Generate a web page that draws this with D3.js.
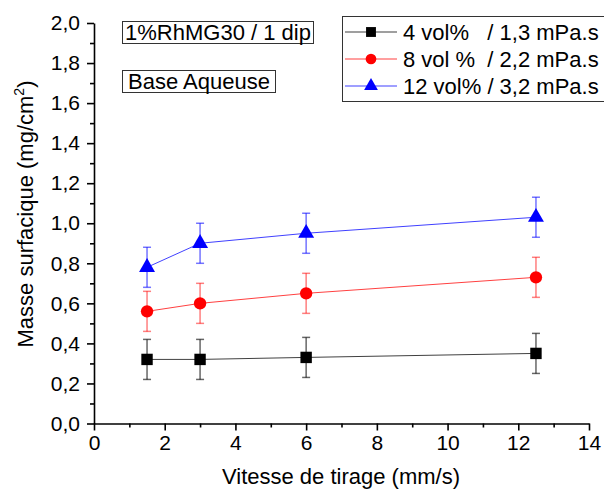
<!DOCTYPE html>
<html><head><meta charset="utf-8">
<script src="https://cdn.jsdelivr.net/npm/d3@7"></script>
<style>body{margin:0;background:#fff}svg{display:block;font-family:"Liberation Sans",Arial,sans-serif}</style>
</head><body><svg id="c" width="604" height="490"></svg>
<script>
const speeds = [1.5, 3, 6, 12.5];
const s4 = [0.32, 0.32, 0.33, 0.35];
const s8 = [0.56, 0.60, 0.65, 0.73];
const s12 = [0.78, 0.90, 0.95, 1.03];
const err4 = [0.10, 0.10, 0.10, 0.10];
const err8 = [0.10, 0.10, 0.10, 0.10];
const err12 = [0.10, 0.10, 0.10, 0.10];
const seriesNames = ["4 vol%   / 1,3 mPa.s", "8 vol %  / 2,2 mPa.s", "12 vol% / 3,2 mPa.s"];
const xTicks = [0, 2, 4, 6, 8, 10, 12, 14];
const yTicks = [0, 0.2, 0.4, 0.6, 0.8, 1.0, 1.2, 1.4, 1.6, 1.8, 2.0];
const annotations = ["1%RhMG30 / 1 dip", "Base Aqueuse"];

const FF = "Liberation Sans, Arial, sans-serif";
const series = [
  {name: seriesNames[0], v: s4, e: err4, color: "#000", errColor: "rgba(0,0,0,0.6)", shape: d3.symbolSquare, size: 130},
  {name: seriesNames[1], v: s8, e: err8, color: "#ff0000", errColor: "rgba(255,0,0,0.5)", shape: d3.symbolCircle, size: 120},
  {name: seriesNames[2], v: s12, e: err12, color: "#0000ff", errColor: "rgba(0,0,255,0.55)", shape: d3.symbolTriangle, size: 110}
];

const svg = d3.select("#c");
const x = d3.scaleLinear().domain([0, 14]).range([94, 589]);
const y = d3.scaleLinear().domain([0, 2]).range([423.5, 23]);
const fmt = d => d3.format(".1f")(d).replace(".", ",");

// x axis
const gx = svg.append("g").attr("transform", "translate(0,423.5)");
gx.call(d3.axisBottom(x).tickValues(xTicks).tickSize(7).tickSizeOuter(0).tickPadding(5).tickFormat(d3.format("d")));
gx.selectAll(".tick text").attr("font-size", 21).attr("fill", "#000").attr("font-family", FF);
svg.append("g").attr("transform", "translate(0,423.5)")
  .call(d3.axisBottom(x).tickValues(d3.range(1, 14, 2)).tickSize(4).tickSizeOuter(0).tickFormat(""))
  .select(".domain").remove();

// y axis
const gy = svg.append("g").attr("transform", "translate(94,0)");
gy.call(d3.axisLeft(y).tickValues(yTicks).tickSize(7).tickSizeOuter(0).tickPadding(7).tickFormat(fmt));
gy.selectAll(".tick text").attr("font-size", 21).attr("fill", "#000").attr("font-family", FF);
svg.append("g").attr("transform", "translate(94,0)")
  .call(d3.axisLeft(y).tickValues(d3.range(0.1, 2, 0.2)).tickSize(4).tickSizeOuter(0).tickFormat(""))
  .select(".domain").remove();
svg.selectAll(".domain, .tick line").attr("stroke", "#000").attr("stroke-width", 1.6);

// axis titles
svg.append("text").attr("x", 341).attr("y", 484).attr("text-anchor", "middle")
  .attr("font-size", 22).attr("font-family", FF).text("Vitesse de tirage (mm/s)");
const yl = svg.append("text").attr("transform", "translate(33,214) rotate(-90)").attr("text-anchor", "middle").attr("font-size", 22).attr("font-family", FF);
yl.append("tspan").text("Masse surfacique (mg/cm");
yl.append("tspan").attr("dy", -9).attr("font-size", 14).text("2");
yl.append("tspan").attr("dy", 9).text(")");

// series
series.forEach(s => {
  const pts = speeds.map((sp, i) => ({x: sp, v: s.v[i], e: s.e[i]}));
  svg.append("path").datum(pts)
    .attr("fill", "none").attr("stroke", s.color).attr("stroke-width", 1).attr("opacity", 0.75)
    .attr("d", d3.line().x(d => x(d.x)).y(d => y(d.v)));
  const eb = svg.append("g").attr("stroke", s.errColor).attr("stroke-width", 1.5);
  pts.forEach(d => {
    eb.append("line").attr("x1", x(d.x)).attr("x2", x(d.x)).attr("y1", y(d.v - d.e)).attr("y2", y(d.v + d.e));
    [d.v - d.e, d.v + d.e].forEach(v => eb.append("line").attr("x1", x(d.x) - 4).attr("x2", x(d.x) + 4).attr("y1", y(v)).attr("y2", y(v)));
  });
  svg.append("g").selectAll("path").data(pts).join("path")
    .attr("transform", d => `translate(${x(d.x)},${y(d.v)})`)
    .attr("d", d3.symbol().type(s.shape).size(s.size)).attr("fill", s.color);
});

// legend
const lg = svg.append("g");
lg.append("rect").attr("x", 342.5).attr("y", 16.5).attr("width", 262).attr("height", 85)
  .attr("fill", "#fff").attr("stroke", "#333").attr("stroke-width", 1);
series.forEach((s, i) => {
  const yy = 32 + i * 27;
  lg.append("line").attr("x1", 345).attr("x2", 397).attr("y1", yy).attr("y2", yy).attr("stroke", s.color).attr("stroke-width", 1).attr("opacity", 0.75);
  lg.append("path").attr("transform", `translate(371,${yy})`).attr("d", d3.symbol().type(s.shape).size(s.size * 0.75)).attr("fill", s.color);
  lg.append("text").attr("x", 403).attr("y", yy + 8).attr("font-size", 22).attr("font-family", FF)
    .attr("xml:space", "preserve").style("white-space", "pre").text(s.name);
});

// annotation boxes
[[122, 21, 191, 22], [122, 70, 153, 22]].forEach((b, i) => {
  svg.append("rect").attr("x", b[0] + 0.5).attr("y", b[1] + 0.5).attr("width", b[2]).attr("height", b[3])
    .attr("fill", "#fff").attr("stroke", "#333");
  svg.append("text").attr("x", b[0] + b[2] / 2 + 0.5).attr("y", b[1] + 19).attr("text-anchor", "middle")
    .attr("font-size", 22).attr("font-family", FF).text(annotations[i]);
});
</script></body></html>
